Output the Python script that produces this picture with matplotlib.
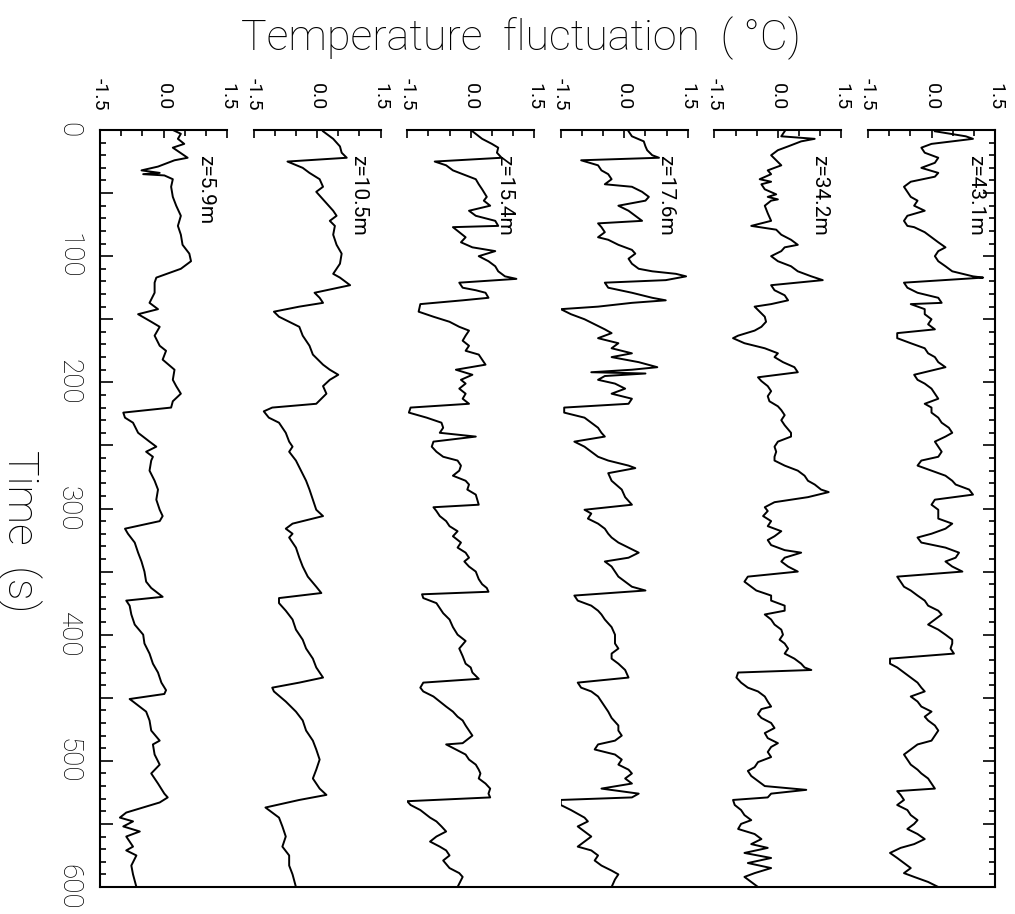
import matplotlib
matplotlib.use("Agg")
import matplotlib.pyplot as plt
from matplotlib.ticker import MultipleLocator, FuncFormatter

plt.rcParams['font.family'] = ['Roboto', 'DejaVu Sans']

# sensor heights, lowest trace (left) first
heights = ["z=5.9m", "z=10.5m", "z=15.4m", "z=17.6m", "z=34.2m", "z=43.1m"]

# time (s) and temperature fluctuation (deg C)
t_5_9 = [0,3,7,11,14,22,24,29,32,34,35,36,39,45,53,60,68,76,83,91,98,104,110,117,121,
	129,137,142,146,152,156,163,171,175,182,190,198,203,209,215,220,224,228,232,240,
	247,251,255,259,262,270,278,285,293,301,306,310,316,320,327,335,342,350,358,363,
	370,373,377,384,392,400,407,415,423,430,438,444,447,451,453,461,468,476,484,487,
	495,503,510,518,526,529,533,541,545,548,552,556,560,568,571,575,583,590,600]
dT_5_9 = [0.22,0.41,0.34,0.49,0.22,0.57,0.26,-0.13,-0.52,-0.09,-0.48,0.02,0.22,0.18,0.22,
	0.30,0.41,0.34,0.41,0.45,0.61,0.65,0.41,-0.17,-0.21,-0.21,-0.33,-0.13,-0.60,-0.29,
	-0.09,-0.21,-0.09,0.06,-0.02,0.26,0.22,0.30,0.41,0.22,0.18,-0.95,-0.91,-0.72,-0.60,
	-0.33,-0.17,-0.41,-0.25,-0.29,-0.33,-0.21,-0.13,-0.17,-0.09,-0.02,-0.09,-0.91,-0.84,-0.68,
	-0.60,-0.52,-0.45,-0.41,-0.29,-0.02,-0.88,-0.80,-0.76,-0.68,-0.48,-0.45,-0.33,-0.25,-0.13,
	-0.05,0.06,0.02,-0.80,-0.72,-0.41,-0.33,-0.29,-0.09,-0.25,-0.21,-0.09,-0.29,-0.13,0.02,
	0.10,-0.09,-0.88,-1.03,-0.72,-0.95,-0.56,-0.88,-0.72,-0.88,-0.64,-0.76,-0.72,-0.64]

t_10_5 = [1,7,13,18,22,25,30,34,39,45,49,55,58,64,68,72,76,83,91,98,106,114,117,123,127,
	129,133,137,140,144,148,152,156,163,171,178,186,190,194,198,203,209,217,220,223,
	228,232,240,247,251,255,262,270,278,285,293,301,306,312,316,320,323,331,339,346,
	354,362,367,371,375,381,388,396,404,411,419,426,434,438,442,445,453,461,468,476,
	484,491,499,507,514,522,527,531,537,541,545,552,560,568,575,583,590,600]
dT_10_5 = [0.14,0.38,0.54,0.58,0.70,-0.70,-0.34,-0.18,0.06,0.14,-0.02,0.14,0.22,0.38,0.46,
	0.30,0.42,0.38,0.46,0.58,0.54,0.38,0.54,0.78,0.22,-0.06,0.06,0.14,-0.42,-1.02,
	-0.90,-0.66,-0.42,-0.34,-0.18,-0.10,0.14,0.30,0.50,0.30,0.14,0.22,-0.02,-1.06,-1.26,
	-1.14,-0.90,-0.74,-0.66,-0.58,-0.66,-0.50,-0.38,-0.26,-0.18,-0.10,-0.02,0.14,-0.58,-0.74,
	-0.58,-0.66,-0.50,-0.42,-0.34,-0.22,-0.02,0.10,-0.90,-0.90,-0.74,-0.58,-0.50,-0.34,-0.26,
	-0.10,-0.02,0.14,-0.42,-1.06,-1.02,-0.74,-0.50,-0.34,-0.26,-0.10,-0.02,0.06,-0.02,-0.10,
	0.06,0.22,-0.42,-1.22,-1.06,-0.90,-0.82,-0.74,-0.82,-0.66,-0.66,-0.58,-0.50]

t_15_4 = [1,7,11,14,18,22,25,28,32,35,39,43,47,53,56,60,64,68,72,76,77,81,85,89,93,
	96,100,104,108,112,116,118,121,125,127,129,133,135,138,144,148,152,156,159,163,
	167,171,175,178,182,186,190,194,198,201,205,209,213,217,220,224,228,232,236,240,
	243,247,251,255,259,262,266,270,274,278,281,285,289,297,299,302,306,310,314,318,
	322,327,331,335,339,342,346,350,356,360,363,366,368,371,375,379,383,388,394,400,
	405,411,417,423,426,430,435,438,442,445,449,453,457,461,465,468,472,476,480,486,
	487,491,495,499,503,507,510,514,518,522,526,529,532,535,539,545,548,552,556,560,
	564,568,571,575,579,585,589,592,600]
dT_15_4 = [0.04,0.27,0.50,0.65,0.62,0.73,-0.85,-0.58,-0.42,-0.19,0.12,0.19,0.27,0.38,0.31,
	0.46,-0.04,0.12,0.58,0.65,-0.42,-0.27,-0.12,-0.23,0.04,0.58,0.19,0.42,0.58,0.65,
	0.81,1.08,-0.27,-0.19,0.12,0.35,0.42,-0.19,-1.19,-1.23,-0.88,-0.50,-0.27,-0.04,-0.12,
	-0.19,-0.04,-0.12,0.19,0.27,0.35,-0.35,0.04,-0.23,-0.12,-0.27,-0.12,-0.19,-0.04,-1.42,
	-1.46,-1.04,-0.69,-0.65,-0.73,0.12,-0.88,-0.92,-0.81,-0.65,-0.31,-0.23,-0.27,-0.42,-0.12,
	-0.04,-0.08,0.12,0.19,-0.88,-0.81,-0.73,-0.58,-0.50,-0.31,-0.42,-0.23,-0.31,-0.12,-0.04,
	-0.15,-0.04,0.12,0.19,0.27,0.38,0.42,-1.15,-1.12,-0.81,-0.73,-0.65,-0.50,-0.42,-0.31,
	-0.12,-0.27,-0.19,-0.12,0.00,0.04,0.19,-1.12,-1.19,-1.12,-0.88,-0.73,-0.58,-0.42,-0.31,
	-0.19,-0.12,-0.04,0.04,-0.19,-0.58,-0.35,-0.12,-0.04,0.12,0.19,0.23,0.19,0.35,0.46,
	0.42,0.46,-1.50,-1.42,-1.19,-0.96,-0.81,-0.69,-0.58,-0.81,-0.96,-0.73,-0.58,-0.50,-0.65,
	-0.50,-0.27,-0.19,-0.31]

t_17_6 = [1,5,9,13,16,20,22,24,28,32,35,39,43,45,49,53,56,60,64,68,72,74,77,81,85,
	87,91,95,98,102,106,110,112,114,116,119,121,125,129,133,135,137,140,142,146,
	150,154,158,161,165,169,173,177,180,184,188,190,192,193,195,198,201,205,209,213,
	217,220,224,228,232,236,240,243,247,251,255,259,262,266,268,272,278,285,291,297,
	301,304,308,312,316,320,323,327,331,335,339,342,346,350,354,358,362,365,369,373,
	377,381,384,388,394,400,407,411,415,419,423,428,434,438,442,445,449,453,457,461,
	466,472,476,480,484,487,491,495,499,503,507,510,514,518,522,526,529,531,535,539,
	545,548,552,556,560,564,568,571,575,579,583,587,590,594,600]
dT_17_6 = [0.10,0.18,0.46,0.50,0.54,0.66,0.82,-1.02,-0.62,-0.54,-0.38,-0.30,-0.46,0.18,0.42,
	0.58,0.50,-0.14,0.10,0.26,0.42,-0.62,-0.54,-0.46,-0.62,-0.38,-0.14,0.18,0.26,0.10,
	0.18,0.34,0.66,1.22,1.46,0.98,-0.46,-0.38,0.18,0.66,0.98,0.18,-0.62,-1.50,-1.26,
	-0.94,-0.70,-0.46,-0.30,-0.62,-0.14,-0.30,0.18,-0.30,0.34,0.78,0.18,-0.78,0.50,-0.46,
	-0.62,-0.22,0.02,-0.30,0.18,0.10,-1.42,-1.42,-0.94,-0.78,-0.62,-0.54,-0.46,-1.18,-0.94,
	-0.78,-0.62,-0.38,0.10,0.26,-0.38,-0.30,-0.06,0.02,0.18,-0.94,-0.78,-0.86,-0.62,-0.46,
	-0.38,-0.30,-0.14,0.10,0.34,0.10,-0.46,-0.30,-0.22,-0.14,0.02,0.18,0.50,-1.18,-1.10,
	-0.78,-0.62,-0.54,-0.46,-0.30,-0.22,-0.22,-0.14,-0.30,-0.30,-0.14,0.02,0.10,-1.10,-1.02,
	-0.78,-0.62,-0.54,-0.46,-0.38,-0.30,-0.14,-0.14,-0.06,-0.22,-0.62,-0.70,-0.22,-0.06,-0.14,
	0.10,0.18,0.02,0.18,-0.54,0.34,0.18,-1.50,-1.50,-1.26,-0.94,-0.86,-1.10,-0.94,-0.78,
	-0.94,-1.10,-0.78,-0.62,-0.70,-0.54,-0.30,-0.14,-0.22,-0.30]

t_34_2 = [1,5,7,9,13,16,20,24,28,32,35,39,41,43,47,51,53,55,56,60,66,72,76,79,83,
	87,91,93,96,100,104,108,112,116,119,123,127,131,135,138,140,144,148,152,156,
	159,163,165,169,173,177,180,184,188,192,196,199,203,207,211,215,219,222,226,230,
	234,240,243,247,251,255,259,262,266,270,274,278,281,285,287,291,295,299,302,306,
	310,314,318,322,325,329,333,335,339,342,346,350,354,358,362,365,369,373,377,381,
	384,388,392,396,400,404,407,411,415,419,423,426,428,430,434,438,442,445,449,453,
	457,459,463,466,470,474,478,482,486,489,493,497,501,505,508,512,516,520,523,526,
	529,531,535,539,543,547,550,554,558,562,566,569,573,577,581,585,589,592,596,600]
dT_34_2 = [0.16,0.08,0.87,0.55,0.24,0.00,-0.16,-0.04,0.08,-0.24,-0.16,-0.43,-0.16,-0.39,-0.31,
	-0.04,-0.24,0.00,-0.16,-0.31,-0.24,-0.16,-0.63,-0.04,0.08,0.31,0.47,0.16,0.08,-0.16,
	0.00,0.31,0.47,0.79,1.06,-0.16,-0.08,0.16,0.24,-0.16,-0.55,-0.43,-0.31,-0.28,-0.39,
	-0.55,-0.94,-1.06,-0.79,-0.31,0.00,-0.08,0.12,0.39,0.47,-0.47,-0.39,-0.24,-0.16,-0.24,
	-0.20,0.00,0.08,0.16,0.08,0.16,0.31,0.31,0.00,-0.08,-0.04,-0.08,-0.08,0.16,0.47,
	0.63,0.71,0.87,1.02,1.20,0.71,-0.08,-0.31,-0.24,-0.35,-0.16,-0.24,0.08,-0.08,-0.24,
	-0.16,0.16,0.55,0.16,0.08,0.24,0.47,-0.71,-0.79,-0.63,-0.51,-0.16,-0.16,0.16,0.16,
	-0.31,-0.16,-0.08,0.08,0.12,0.04,0.16,0.24,0.16,0.39,0.55,0.63,0.79,-0.94,-0.98,
	-0.87,-0.71,-0.47,-0.31,-0.24,-0.16,-0.39,-0.47,-0.39,-0.16,-0.08,-0.31,-0.24,0.00,-0.16,
	-0.24,-0.16,-0.47,-0.55,-0.71,-0.63,-0.47,-0.31,0.67,-0.16,-0.24,-1.06,-1.02,-0.87,-0.79,
	-0.63,-0.87,-0.94,-0.55,-0.39,-0.63,-0.24,-0.79,-0.16,-0.71,-0.16,-0.55,-0.79,-0.63,-0.47]

t_43_1 = [1,5,7,11,14,18,22,26,30,34,37,41,45,49,53,56,60,64,68,72,76,77,81,85,89,
	93,96,100,104,108,112,116,117,121,125,129,133,137,138,142,146,150,154,158,161,
	165,169,173,177,180,184,188,190,194,198,201,205,209,213,217,220,224,228,232,236,
	240,243,247,251,255,259,262,266,270,274,278,281,285,289,293,297,301,304,308,312,
	316,320,323,327,331,335,339,342,346,350,354,358,362,365,369,373,377,381,384,388,
	392,396,400,404,407,411,415,419,423,426,430,434,438,442,445,449,453,457,461,465,
	468,472,476,480,484,487,491,495,499,503,507,510,514,518,522,524,527,531,535,539,
	543,547,550,554,558,562,566,569,573,577,581,585,589,592,596,600]
dT_43_1 = [0.08,0.81,0.98,0.00,-0.24,-0.16,0.16,0.08,-0.24,0.16,0.08,-0.49,-0.65,-0.57,-0.49,
	-0.33,-0.41,-0.16,-0.57,-0.65,-0.57,-0.41,-0.16,0.00,0.16,0.33,0.16,0.08,0.16,0.33,
	0.49,0.98,1.22,-0.65,-0.57,-0.33,0.16,0.24,-0.49,-0.16,-0.16,0.00,-0.08,0.08,-0.81,
	-0.81,-0.49,-0.16,-0.08,0.08,0.16,0.33,0.08,-0.41,-0.33,-0.16,0.00,0.08,0.16,-0.16,
	0.00,0.00,0.16,0.24,0.41,0.49,0.33,0.08,0.16,0.24,0.16,-0.24,-0.33,0.00,0.33,
	0.49,0.57,0.89,0.98,0.08,0.00,0.16,0.16,0.16,0.49,0.33,0.00,-0.33,-0.24,0.33,
	0.65,0.57,0.33,0.49,0.73,-0.81,-0.73,-0.65,-0.49,-0.33,-0.16,-0.08,0.16,0.24,0.08,
	-0.08,0.16,0.33,0.49,0.49,0.45,0.53,-0.98,-0.98,-0.81,-0.65,-0.49,-0.33,-0.24,-0.16,
	-0.49,-0.33,-0.24,0.00,-0.16,-0.08,0.08,0.16,0.08,0.00,-0.33,-0.49,-0.65,-0.57,-0.49,
	-0.33,-0.24,-0.08,0.00,0.08,-0.81,-0.73,-0.65,-0.81,-0.57,-0.49,-0.33,-0.41,-0.57,-0.33,
	-0.16,-0.41,-0.73,-0.98,-0.81,-0.65,-0.49,-0.65,-0.41,-0.08,0.16]

times = [t_5_9, t_10_5, t_15_4, t_17_6, t_34_2, t_43_1]
temps = [dT_5_9, dT_10_5, dT_15_4, dT_17_6, dT_34_2, dT_43_1]
label_x = [1.0, 0.98, 0.81, 0.98, 0.98, 1.05]

W, H = 1015.0, 914.0
left, right, top, bottom = 100, 995, 130, 887
pitch, width = 153.6, 127

fig = plt.figure(figsize=(W/100, H/100), dpi=100)

# outer frame: time axis (page is turned, so time runs downwards)
frame = fig.add_axes([left/W, 1-bottom/H, (right-left)/W, (bottom-top)/H])
frame.set_xlim(0, 1)
frame.set_ylim(600, 0)
frame.spines['top'].set_visible(False)
for s in ['left', 'right', 'bottom']:
	frame.spines[s].set_linewidth(1.5)
frame.set_xticks([])
frame.yaxis.set_major_locator(MultipleLocator(50))
frame.yaxis.set_minor_locator(MultipleLocator(10))
frame.yaxis.set_major_formatter(FuncFormatter(lambda v, p: "%d" % v if v % 100 == 0 else ""))
frame.tick_params(axis='y', which='both', direction='in', left=True, right=True, width=1.2)
frame.tick_params(axis='y', which='major', length=9, pad=13, labelsize=20, labelrotation=-90)
frame.tick_params(axis='y', which='minor', length=4.5)
plt.setp(frame.get_yticklabels(), va='center', fontweight='light')

for i in range(6):
	x0 = left + i*pitch
	ax = fig.add_axes([x0/W, 1-bottom/H, width/W, (bottom-top)/H])
	ax.patch.set_visible(False)
	ax.plot(temps[i], times[i], color='black', lw=1.4)
	ax.set_xlim(-1.5, 1.5)
	ax.set_ylim(600, 0)
	for s in ['left', 'right', 'bottom']:
		ax.spines[s].set_visible(False)
	ax.spines['top'].set_linewidth(1.5)
	ax.set_yticks([])
	ax.xaxis.tick_top()
	ax.set_xticks([-1.5, 0, 1.5])
	ax.set_xticklabels(['-1.5', '0.0', '1.5'])
	ax.xaxis.set_minor_locator(MultipleLocator(0.5))
	ax.tick_params(axis='x', which='both', direction='in', top=True, bottom=False, width=1.2)
	ax.tick_params(axis='x', which='major', length=6, pad=14, labelsize=14, labelrotation=-90)
	ax.tick_params(axis='x', which='minor', length=4)
	ax.text(label_x[i], 20, heights[i], rotation=-90, ha='center', va='top', fontsize=15)

fig.text(521/W, 1-50/H, 'Temperature  fluctuation  ( °C)', ha='center', va='baseline',
	fontsize=31, fontweight='light')
fig.text(20/W, 1-(top+318*(bottom-top)/600.0)/H, 'Time  (s)', rotation=-90, ha='center',
	va='center', fontsize=31, fontweight='light')

fig.savefig('out.png', dpi=100)
